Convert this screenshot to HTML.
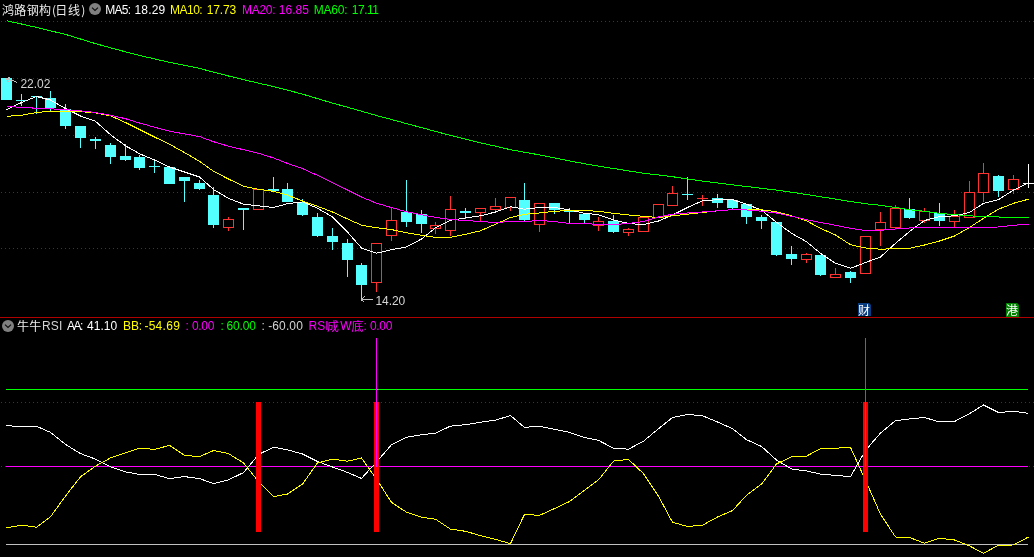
<!DOCTYPE html>
<html><head><meta charset="utf-8"><title>chart</title>
<style>
html,body{margin:0;padding:0;background:#000;}
body{width:1034px;height:557px;overflow:hidden;position:relative;font-family:"Liberation Sans","Noto Sans CJK SC",sans-serif;font-size:12px;line-height:14px;color:#c8c8c8;}
svg{position:absolute;left:0;top:0;display:block}
.t{position:absolute;white-space:nowrap;}
.w{color:#ffffff}.y{color:#ffff00}.m{color:#ff00ff}.g{color:#00ff00}.s{color:#d4d4d4}.k{color:#fff}
.cj.s{color:#ececec}
.cj{font-family:"Noto Sans CJK SC","Liberation Sans",sans-serif}
</style></head><body>
<svg width="1034" height="557" viewBox="0 0 1034 557" shape-rendering="crispEdges">
<defs><pattern id="dot" x="1" y="0" width="4" height="1" patternUnits="userSpaceOnUse"><rect x="0" y="0" width="1" height="1" fill="#b80000"/></pattern></defs>
<rect width="1034" height="557" fill="#000"/>
<rect x="0" y="21" width="1034" height="1" fill="url(#dot)"/>
<rect x="0" y="78" width="1034" height="1" fill="url(#dot)"/>
<rect x="0" y="135" width="1034" height="1" fill="url(#dot)"/>
<rect x="0" y="192" width="1034" height="1" fill="url(#dot)"/>
<rect x="0" y="248" width="1034" height="1" fill="url(#dot)"/>
<rect x="0" y="402" width="1034" height="1" fill="url(#dot)"/>
<rect x="0" y="466" width="1034" height="1" fill="url(#dot)"/>
<rect x="0" y="317" width="1034" height="1" fill="#b00000"/>
<rect x="6" y="78" width="1" height="22" fill="#54ffff"/>
<rect x="1" y="78" width="11" height="22" fill="#54ffff"/>
<rect x="21" y="94" width="1" height="12" fill="#54ffff"/>
<rect x="16" y="100" width="11" height="1" fill="#54ffff"/>
<rect x="36" y="96" width="1" height="18" fill="#54ffff"/>
<rect x="31" y="96" width="11" height="1" fill="#54ffff"/>
<rect x="50" y="91" width="1" height="20" fill="#54ffff"/>
<rect x="45" y="98" width="11" height="10" fill="#54ffff"/>
<rect x="65" y="104" width="1" height="25" fill="#54ffff"/>
<rect x="60" y="109" width="11" height="17" fill="#54ffff"/>
<rect x="80" y="126" width="1" height="22" fill="#54ffff"/>
<rect x="75" y="126" width="11" height="12" fill="#54ffff"/>
<rect x="95" y="137" width="1" height="12" fill="#54ffff"/>
<rect x="90" y="139" width="11" height="2" fill="#54ffff"/>
<rect x="110" y="143" width="1" height="21" fill="#54ffff"/>
<rect x="105" y="145" width="11" height="12" fill="#54ffff"/>
<rect x="125" y="144" width="1" height="17" fill="#54ffff"/>
<rect x="120" y="156" width="11" height="4" fill="#54ffff"/>
<rect x="139" y="155" width="1" height="15" fill="#54ffff"/>
<rect x="134" y="157" width="11" height="11" fill="#54ffff"/>
<rect x="154" y="160" width="1" height="13" fill="#54ffff"/>
<rect x="149" y="166" width="11" height="1" fill="#54ffff"/>
<rect x="169" y="167" width="1" height="17" fill="#54ffff"/>
<rect x="164" y="167" width="11" height="17" fill="#54ffff"/>
<rect x="184" y="177" width="1" height="25" fill="#54ffff"/>
<rect x="179" y="177" width="11" height="4" fill="#54ffff"/>
<rect x="199" y="180" width="1" height="10" fill="#54ffff"/>
<rect x="194" y="183" width="11" height="6" fill="#54ffff"/>
<rect x="213" y="187" width="1" height="41" fill="#54ffff"/>
<rect x="208" y="195" width="11" height="30" fill="#54ffff"/>
<rect x="228" y="217" width="1" height="2" fill="#ff3232"/>
<rect x="228" y="228" width="1" height="3" fill="#ff3232"/>
<rect x="223.5" y="219.5" width="10" height="8" fill="#000" stroke="#ff3232" stroke-width="1"/>
<rect x="243" y="208" width="1" height="22" fill="#54ffff"/>
<rect x="238" y="208" width="11" height="2" fill="#54ffff"/>
<rect x="253.5" y="189.5" width="10" height="20" fill="#000" stroke="#ff3232" stroke-width="1"/>
<rect x="273" y="177" width="1" height="15" fill="#54ffff"/>
<rect x="268" y="189" width="11" height="2" fill="#54ffff"/>
<rect x="287" y="183" width="1" height="19" fill="#54ffff"/>
<rect x="282" y="189" width="11" height="13" fill="#54ffff"/>
<rect x="302" y="199" width="1" height="17" fill="#54ffff"/>
<rect x="297" y="203" width="11" height="12" fill="#54ffff"/>
<rect x="317" y="213" width="1" height="24" fill="#54ffff"/>
<rect x="312" y="217" width="11" height="19" fill="#54ffff"/>
<rect x="332" y="228" width="1" height="22" fill="#54ffff"/>
<rect x="327" y="236" width="11" height="6" fill="#54ffff"/>
<rect x="347" y="239" width="1" height="38" fill="#54ffff"/>
<rect x="342" y="243" width="11" height="17" fill="#54ffff"/>
<rect x="361" y="263" width="1" height="38" fill="#54ffff"/>
<rect x="356" y="265" width="11" height="20" fill="#54ffff"/>
<rect x="376" y="283" width="1" height="9" fill="#ff3232"/>
<rect x="371.5" y="243.5" width="10" height="39" fill="#000" stroke="#ff3232" stroke-width="1"/>
<rect x="391" y="207" width="1" height="13" fill="#ff3232"/>
<rect x="391" y="236" width="1" height="5" fill="#ff3232"/>
<rect x="386.5" y="220.5" width="10" height="15" fill="#000" stroke="#ff3232" stroke-width="1"/>
<rect x="406" y="180" width="1" height="47" fill="#54ffff"/>
<rect x="401" y="212" width="11" height="10" fill="#54ffff"/>
<rect x="421" y="210" width="1" height="23" fill="#54ffff"/>
<rect x="416" y="214" width="11" height="10" fill="#54ffff"/>
<rect x="435" y="222" width="1" height="3" fill="#ff3232"/>
<rect x="435" y="229" width="1" height="5" fill="#ff3232"/>
<rect x="430.5" y="225.5" width="10" height="3" fill="#000" stroke="#ff3232" stroke-width="1"/>
<rect x="450" y="196" width="1" height="13" fill="#ff3232"/>
<rect x="450" y="231" width="1" height="5" fill="#ff3232"/>
<rect x="445.5" y="209.5" width="10" height="21" fill="#000" stroke="#ff3232" stroke-width="1"/>
<rect x="465" y="208" width="1" height="11" fill="#54ffff"/>
<rect x="460" y="211" width="11" height="2" fill="#54ffff"/>
<rect x="480" y="213" width="1" height="8" fill="#ff3232"/>
<rect x="475.5" y="208.5" width="10" height="4" fill="#000" stroke="#ff3232" stroke-width="1"/>
<rect x="495" y="198" width="1" height="8" fill="#ff3232"/>
<rect x="495" y="210" width="1" height="2" fill="#ff3232"/>
<rect x="490.5" y="206.5" width="10" height="3" fill="#000" stroke="#ff3232" stroke-width="1"/>
<rect x="510" y="208" width="1" height="3" fill="#ff3232"/>
<rect x="505.5" y="197.5" width="10" height="10" fill="#000" stroke="#ff3232" stroke-width="1"/>
<rect x="524" y="183" width="1" height="38" fill="#54ffff"/>
<rect x="519" y="200" width="11" height="20" fill="#54ffff"/>
<rect x="539" y="225" width="1" height="7" fill="#ff3232"/>
<rect x="534.5" y="203.5" width="10" height="21" fill="#000" stroke="#ff3232" stroke-width="1"/>
<rect x="554" y="203" width="1" height="11" fill="#54ffff"/>
<rect x="549" y="203" width="11" height="7" fill="#54ffff"/>
<rect x="569" y="208" width="1" height="15" fill="#54ffff"/>
<rect x="564" y="210" width="11" height="2" fill="#54ffff"/>
<rect x="584" y="214" width="1" height="9" fill="#54ffff"/>
<rect x="579" y="214" width="11" height="6" fill="#54ffff"/>
<rect x="598" y="217" width="1" height="4" fill="#ff3232"/>
<rect x="598" y="226" width="1" height="5" fill="#ff3232"/>
<rect x="593.5" y="221.5" width="10" height="4" fill="#000" stroke="#ff3232" stroke-width="1"/>
<rect x="613" y="215" width="1" height="18" fill="#54ffff"/>
<rect x="608" y="221" width="11" height="11" fill="#54ffff"/>
<rect x="628" y="228" width="1" height="1" fill="#ff3232"/>
<rect x="628" y="233" width="1" height="3" fill="#ff3232"/>
<rect x="623.5" y="229.5" width="10" height="3" fill="#000" stroke="#ff3232" stroke-width="1"/>
<rect x="638.5" y="217.5" width="10" height="14" fill="#000" stroke="#ff3232" stroke-width="1"/>
<rect x="653.5" y="204.5" width="10" height="13" fill="#000" stroke="#ff3232" stroke-width="1"/>
<rect x="672" y="186" width="1" height="7" fill="#ff3232"/>
<rect x="667.5" y="193.5" width="10" height="12" fill="#000" stroke="#ff3232" stroke-width="1"/>
<rect x="687" y="177" width="1" height="23" fill="#54ffff"/>
<rect x="682" y="194" width="11" height="1" fill="#54ffff"/>
<rect x="702" y="195" width="1" height="11" fill="#ff3232"/>
<rect x="697" y="198" width="11" height="1" fill="#ff3232"/>
<rect x="717" y="194" width="1" height="14" fill="#54ffff"/>
<rect x="712" y="198" width="11" height="5" fill="#54ffff"/>
<rect x="732" y="199" width="1" height="11" fill="#54ffff"/>
<rect x="727" y="200" width="11" height="8" fill="#54ffff"/>
<rect x="746" y="204" width="1" height="20" fill="#54ffff"/>
<rect x="741" y="204" width="11" height="13" fill="#54ffff"/>
<rect x="761" y="215" width="1" height="14" fill="#54ffff"/>
<rect x="756" y="217" width="11" height="4" fill="#54ffff"/>
<rect x="776" y="222" width="1" height="34" fill="#54ffff"/>
<rect x="771" y="222" width="11" height="33" fill="#54ffff"/>
<rect x="791" y="246" width="1" height="19" fill="#54ffff"/>
<rect x="786" y="254" width="11" height="5" fill="#54ffff"/>
<rect x="806" y="253" width="1" height="1" fill="#ff3232"/>
<rect x="806" y="260" width="1" height="3" fill="#ff3232"/>
<rect x="801.5" y="254.5" width="10" height="5" fill="#000" stroke="#ff3232" stroke-width="1"/>
<rect x="820" y="255" width="1" height="21" fill="#54ffff"/>
<rect x="815" y="255" width="11" height="20" fill="#54ffff"/>
<rect x="835" y="268" width="1" height="6" fill="#ff3232"/>
<rect x="830.5" y="274.5" width="10" height="3" fill="#000" stroke="#ff3232" stroke-width="1"/>
<rect x="850" y="271" width="1" height="12" fill="#54ffff"/>
<rect x="845" y="272" width="11" height="6" fill="#54ffff"/>
<rect x="860.5" y="236.5" width="10" height="37" fill="#000" stroke="#ff3232" stroke-width="1"/>
<rect x="880" y="212" width="1" height="10" fill="#ff3232"/>
<rect x="880" y="230" width="1" height="16" fill="#ff3232"/>
<rect x="875.5" y="222.5" width="10" height="7" fill="#000" stroke="#ff3232" stroke-width="1"/>
<rect x="895" y="205" width="1" height="3" fill="#ff3232"/>
<rect x="890.5" y="208.5" width="10" height="19" fill="#000" stroke="#ff3232" stroke-width="1"/>
<rect x="909" y="198" width="1" height="21" fill="#54ffff"/>
<rect x="904" y="209" width="11" height="9" fill="#54ffff"/>
<rect x="924" y="208" width="1" height="3" fill="#ff3232"/>
<rect x="924" y="221" width="1" height="2" fill="#ff3232"/>
<rect x="919.5" y="211.5" width="10" height="9" fill="#000" stroke="#ff3232" stroke-width="1"/>
<rect x="939" y="203" width="1" height="23" fill="#54ffff"/>
<rect x="934" y="213" width="11" height="8" fill="#54ffff"/>
<rect x="954" y="210" width="1" height="6" fill="#ff3232"/>
<rect x="954" y="222" width="1" height="6" fill="#ff3232"/>
<rect x="949.5" y="216.5" width="10" height="5" fill="#000" stroke="#ff3232" stroke-width="1"/>
<rect x="969" y="181" width="1" height="11" fill="#ff3232"/>
<rect x="964.5" y="192.5" width="10" height="25" fill="#000" stroke="#ff3232" stroke-width="1"/>
<rect x="983" y="163" width="1" height="10" fill="#ff3232"/>
<rect x="983" y="193" width="1" height="9" fill="#ff3232"/>
<rect x="978.5" y="173.5" width="10" height="19" fill="#000" stroke="#ff3232" stroke-width="1"/>
<rect x="998" y="175" width="1" height="22" fill="#54ffff"/>
<rect x="993" y="176" width="11" height="15" fill="#54ffff"/>
<rect x="1013" y="175" width="1" height="4" fill="#ff3232"/>
<rect x="1013" y="190" width="1" height="4" fill="#ff3232"/>
<rect x="1008.5" y="179.5" width="10" height="10" fill="#000" stroke="#ff3232" stroke-width="1"/>
<rect x="1028" y="164" width="1" height="24" fill="#ffffff"/>
<rect x="1023" y="183" width="11" height="1" fill="#ffffff"/>
<polyline points="6.5,109.7 21.5,102.5 36.5,96.5 50.5,100.0 65.5,108.5 80.5,116.0 95.5,121.3 110.5,134.7 125.5,145.8 139.5,153.7 154.5,160.0 169.5,167.0 184.5,172.0 199.5,177.0 213.5,189.5 228.5,198.3 243.5,204.2 258.5,205.8 273.5,207.5 287.5,203.7 302.5,201.9 317.5,208.2 332.5,217.0 347.5,232.1 361.5,248.0 376.5,253.2 391.5,249.7 406.5,247.0 421.5,239.0 435.5,227.8 450.5,220.3 465.5,218.0 480.5,215.8 495.5,212.0 510.5,206.7 524.5,209.2 539.5,207.5 554.5,207.5 569.5,210.0 584.5,213.3 598.5,214.7 613.5,219.8 628.5,223.5 643.5,224.6 658.5,221.0 672.5,215.0 687.5,207.5 702.5,200.8 717.5,199.7 732.5,199.7 746.5,204.2 761.5,210.2 776.5,222.3 791.5,233.3 806.5,241.7 820.5,253.3 835.5,263.3 850.5,268.3 865.5,262.5 880.5,257.0 895.5,243.3 909.5,231.5 924.5,220.5 939.5,216.7 954.5,215.8 969.5,212.5 983.5,203.3 998.5,199.7 1013.5,190.0 1028.5,183.0" fill="none" stroke="#ffffff" stroke-width="1"/>
<polyline points="6.5,116.3 21.5,115.3 36.5,112.5 50.5,111.3 65.5,111.3 80.5,111.7 95.5,112.8 110.5,115.8 125.5,122.5 139.5,129.5 154.5,137.0 169.5,144.2 184.5,152.5 199.5,161.3 213.5,171.3 228.5,179.0 243.5,186.3 258.5,189.3 273.5,191.3 287.5,195.0 302.5,201.0 317.5,206.3 332.5,212.0 347.5,218.9 361.5,225.2 376.5,227.7 391.5,229.6 406.5,232.7 421.5,235.3 435.5,237.3 450.5,237.3 465.5,234.3 480.5,230.8 495.5,224.2 510.5,217.5 524.5,214.2 539.5,213.0 554.5,211.3 569.5,210.5 584.5,210.5 598.5,211.3 613.5,213.3 628.5,215.0 643.5,216.3 658.5,217.5 672.5,215.8 687.5,214.2 702.5,212.5 717.5,210.8 732.5,209.7 746.5,209.2 761.5,209.8 776.5,211.8 791.5,215.8 806.5,220.8 820.5,228.3 835.5,235.0 850.5,244.7 865.5,248.0 880.5,249.2 895.5,248.7 909.5,248.3 924.5,245.0 939.5,241.0 954.5,236.0 969.5,227.5 983.5,218.3 998.5,209.2 1013.5,203.3 1028.5,199.2" fill="none" stroke="#ffff00" stroke-width="1"/>
<polyline points="6.5,106.7 21.5,107.2 36.5,108.3 50.5,108.8 65.5,109.7 80.5,110.8 95.5,112.5 110.5,115.3 125.5,118.7 139.5,123.0 154.5,127.2 169.5,131.2 184.5,133.9 199.5,136.6 213.5,141.7 228.5,146.2 243.5,149.7 258.5,153.3 273.5,157.9 287.5,163.4 302.5,168.6 317.5,175.3 332.5,182.8 347.5,190.0 361.5,197.0 376.5,203.2 391.5,207.6 406.5,211.7 421.5,214.8 435.5,217.3 450.5,219.5 465.5,220.5 480.5,221.5 495.5,222.5 510.5,221.5 524.5,221.5 539.5,220.5 554.5,221.5 569.5,223.5 584.5,223.5 598.5,224.5 613.5,224.5 628.5,223.5 643.5,221.5 658.5,217.0 672.5,214.2 687.5,213.0 702.5,212.0 717.5,210.8 732.5,209.7 746.5,210.0 761.5,211.2 776.5,213.0 791.5,216.3 806.5,219.7 820.5,222.5 835.5,225.3 850.5,228.3 865.5,230.5 880.5,230.3 895.5,229.0 909.5,228.0 924.5,227.4 939.5,227.8 954.5,227.5 969.5,227.5 983.5,227.2 998.5,227.0 1013.5,225.3 1028.5,224.2" fill="none" stroke="#ff00ff" stroke-width="1"/>
<polyline points="6.5,20.7 21.5,24.0 36.5,27.4 50.5,30.8 65.5,34.4 80.5,39.0 95.5,43.6 110.5,47.8 125.5,51.8 139.5,55.4 154.5,58.9 169.5,62.3 184.5,65.4 199.5,68.4 213.5,72.1 228.5,76.0 243.5,79.7 258.5,83.1 273.5,86.6 287.5,90.2 302.5,94.1 317.5,98.6 332.5,103.1 347.5,107.2 361.5,111.2 376.5,115.5 391.5,119.5 406.5,123.6 421.5,127.6 435.5,131.4 450.5,135.4 465.5,139.1 480.5,142.8 495.5,146.2 510.5,149.7 524.5,152.2 539.5,154.9 554.5,157.9 569.5,160.9 584.5,163.7 598.5,166.1 613.5,168.5 628.5,170.9 643.5,173.2 658.5,175.0 672.5,176.7 687.5,179.0 702.5,181.1 717.5,182.9 732.5,184.8 746.5,186.5 761.5,188.3 776.5,190.1 791.5,192.2 806.5,194.5 820.5,196.7 835.5,199.1 850.5,201.5 865.5,203.7 880.5,205.3 895.5,207.5 909.5,209.7 924.5,211.3 939.5,213.3 954.5,214.7 969.5,215.8 983.5,216.7 998.5,217.0 1013.5,217.5 1028.5,217.5" fill="none" stroke="#00ff00" stroke-width="1"/>
<rect x="6" y="389" width="1022" height="1" fill="#00ff00"/>
<rect x="6" y="466" width="1022" height="1" fill="#ff00ff"/>
<rect x="6" y="544" width="1022" height="1" fill="#c0c0c0"/>
<polyline points="6.5,425.4 21.5,427.0 36.5,426.2 50.5,432.4 65.5,444.4 80.5,453.6 95.5,459.1 110.5,466.9 125.5,471.9 139.5,474.4 154.5,474.4 169.5,478.6 184.5,476.6 199.5,478.6 213.5,483.6 228.5,479.8 243.5,472.6 258.5,454.5 273.5,447.2 287.5,449.8 302.5,454.0 317.5,461.5 332.5,467.0 347.5,472.4 361.5,478.4 376.5,462.0 391.5,444.7 406.5,437.2 421.5,434.7 435.5,433.2 450.5,426.1 465.5,424.7 480.5,422.2 495.5,420.2 510.5,415.5 524.5,427.4 539.5,426.2 554.5,429.4 569.5,432.4 584.5,437.4 598.5,440.4 613.5,448.2 628.5,449.2 643.5,441.2 658.5,428.7 672.5,417.5 687.5,414.5 702.5,415.7 717.5,422.0 732.5,428.6 746.5,439.7 761.5,446.4 776.5,460.0 791.5,469.0 806.5,470.9 820.5,474.1 835.5,475.4 850.5,476.6 865.5,450.4 880.5,433.0 895.5,420.6 909.5,419.0 924.5,417.5 939.5,422.0 954.5,421.5 969.5,413.7 983.5,405.0 998.5,412.5 1013.5,411.3 1028.5,413.4" fill="none" stroke="#ffffff" stroke-width="1"/>
<polyline points="6.5,527.7 21.5,525.2 36.5,527.2 50.5,516.8 65.5,496.0 80.5,476.8 95.5,466.1 110.5,457.9 125.5,452.9 139.5,448.2 154.5,449.4 169.5,445.4 184.5,455.4 199.5,456.6 213.5,450.6 228.5,453.6 243.5,462.9 258.5,481.5 273.5,496.6 287.5,494.0 302.5,484.1 317.5,462.9 332.5,459.2 347.5,461.2 361.5,458.0 376.5,479.1 391.5,502.3 406.5,512.2 421.5,517.2 435.5,519.2 450.5,529.1 465.5,531.3 480.5,535.6 495.5,539.4 510.5,543.6 524.5,514.4 539.5,515.4 554.5,508.6 569.5,501.5 584.5,490.2 598.5,479.8 613.5,461.1 628.5,459.4 643.5,473.6 658.5,496.1 672.5,522.3 687.5,526.5 702.5,525.2 717.5,517.0 732.5,510.6 746.5,495.3 761.5,484.1 776.5,464.0 791.5,456.7 806.5,456.1 820.5,448.6 835.5,448.2 850.5,447.4 865.5,480.4 880.5,514.2 895.5,537.0 909.5,537.4 924.5,543.3 939.5,538.3 954.5,540.0 969.5,545.9 983.5,553.3 998.5,545.2 1013.5,545.0 1028.5,537.0" fill="none" stroke="#ffff00" stroke-width="1"/>
<rect x="256" y="402" width="5" height="130" fill="#ff0000"/>
<rect x="374" y="402" width="5" height="130" fill="#ff0000"/>
<rect x="863" y="402" width="5" height="130" fill="#ff0000"/>
<rect x="376" y="338" width="1" height="129" fill="#ff00ff"/>
<rect x="865" y="338" width="1" height="129" fill="#ff00ff"/>
<path d="M858 303H869L871 305V316H858Z" fill="#0a3c82" shape-rendering="auto"/>
<path d="M1006 303H1017L1019 305V317H1006Z" fill="#008000" shape-rendering="auto"/>
<path d="M17.5 82.5 L12.5 80.5 L7.5 79.5 M10.5 77.5 L6.5 78.5 L8.5 82.5" fill="none" stroke="#c0c0c0" stroke-width="1"/>
<path d="M361.5 299.5 H373 M364.5 296.5 L361.5 299.5 L364.5 302.5" fill="none" stroke="#c0c0c0" stroke-width="1"/>
<g shape-rendering="auto"><circle cx="95.0" cy="9.0" r="6" fill="#808080"/><path d="M92.0 7.7 l3 2.8 l3 -2.8" fill="none" stroke="#0c0c0c" stroke-width="1.15"/></g>
<g shape-rendering="auto"><circle cx="8.0" cy="326.0" r="6" fill="#808080"/><path d="M5.0 324.7 l3 2.8 l3 -2.8" fill="none" stroke="#0c0c0c" stroke-width="1.15"/></g>
</svg>
<span class="t cj s" id="t1" style="left:2.00px;top:3px;letter-spacing:0.33px">鸿路钢构</span>
<span class="t cj s" id="t2" style="left:52.10px;top:3px;letter-spacing:0.00px">(</span>
<span class="t cj s" id="t3" style="left:55.20px;top:3px;letter-spacing:0.80px">日线</span>
<span class="t cj s" id="t4" style="left:81.20px;top:3px;letter-spacing:0.00px">)</span>
<span class="t w" id="a1" style="left:105.30px;top:3px;letter-spacing:-0.73px">MA5:</span>
<span class="t w" id="a2" style="left:134.50px;top:3px;letter-spacing:0.15px">18.29</span>
<span class="t y" id="b1" style="left:170.00px;top:3px;letter-spacing:-0.50px">MA10:</span>
<span class="t y" id="b2" style="left:206.80px;top:3px;letter-spacing:-0.15px">17.73</span>
<span class="t m" id="c1" style="left:242.00px;top:3px;letter-spacing:-0.30px">MA20:</span>
<span class="t m" id="c2" style="left:278.70px;top:3px;letter-spacing:0.05px">16.85</span>
<span class="t g" id="d1" style="left:313.70px;top:3px;letter-spacing:-0.20px">MA60:</span>
<span class="t g" id="d2" style="left:351.70px;top:3px;letter-spacing:-0.45px">17.11</span>
<span class="t s" id="p1" style="left:20.40px;top:77px;letter-spacing:-0.00px">22.02</span>
<span class="t s" id="p2" style="left:375.40px;top:294px;letter-spacing:-0.05px">14.20</span>
<span class="t cj s" id="r1" style="left:17.00px;top:319px;letter-spacing:0.20px">牛牛</span>
<span class="t s" id="r2" style="left:42.00px;top:319px;letter-spacing:0.20px">RSI</span>
<span class="t w" id="r3" style="left:66.90px;top:319px;letter-spacing:-1.40px">AA:</span>
<span class="t w" id="r4" style="left:87.10px;top:319px;letter-spacing:0.00px">41.10</span>
<span class="t y" id="r5" style="left:123.00px;top:319px;letter-spacing:-0.10px">BB:</span>
<span class="t y" id="r6" style="left:144.40px;top:319px;letter-spacing:0.28px">-54.69</span>
<span class="t m" id="r7" style="left:185.60px;top:319px;letter-spacing:0.00px">:</span>
<span class="t m" id="r8" style="left:192.00px;top:319px;letter-spacing:-0.33px">0.00</span>
<span class="t g" id="r9" style="left:220.60px;top:319px;letter-spacing:0.00px">:</span>
<span class="t g" id="r10" style="left:226.60px;top:319px;letter-spacing:-0.20px">60.00</span>
<span class="t s" id="r11" style="left:261.60px;top:319px;letter-spacing:0.00px">:</span>
<span class="t s" id="r12" style="left:268.20px;top:319px;letter-spacing:0.12px">-60.00</span>
<span class="t m" id="r13" style="left:308.60px;top:319px;letter-spacing:0.00px">RSI</span>
<span class="t cj m" id="r14" style="left:327.00px;top:319px;letter-spacing:0.00px">成</span>
<span class="t m" id="r15" style="left:340.20px;top:319px;letter-spacing:0.00px">W</span>
<span class="t cj m" id="r16" style="left:351.40px;top:319px;letter-spacing:0.00px">底</span>
<span class="t m" id="r17" style="left:363.60px;top:319px;letter-spacing:0.00px">:</span>
<span class="t m" id="r18" style="left:370.00px;top:319px;letter-spacing:-0.33px">0.00</span>
<span class="t cj k" id="k1" style="left:858.00px;top:303px;letter-spacing:0.00px">财</span>
<span class="t cj k" id="k2" style="left:1006.00px;top:303px;letter-spacing:0.00px">港</span>
</body></html>
